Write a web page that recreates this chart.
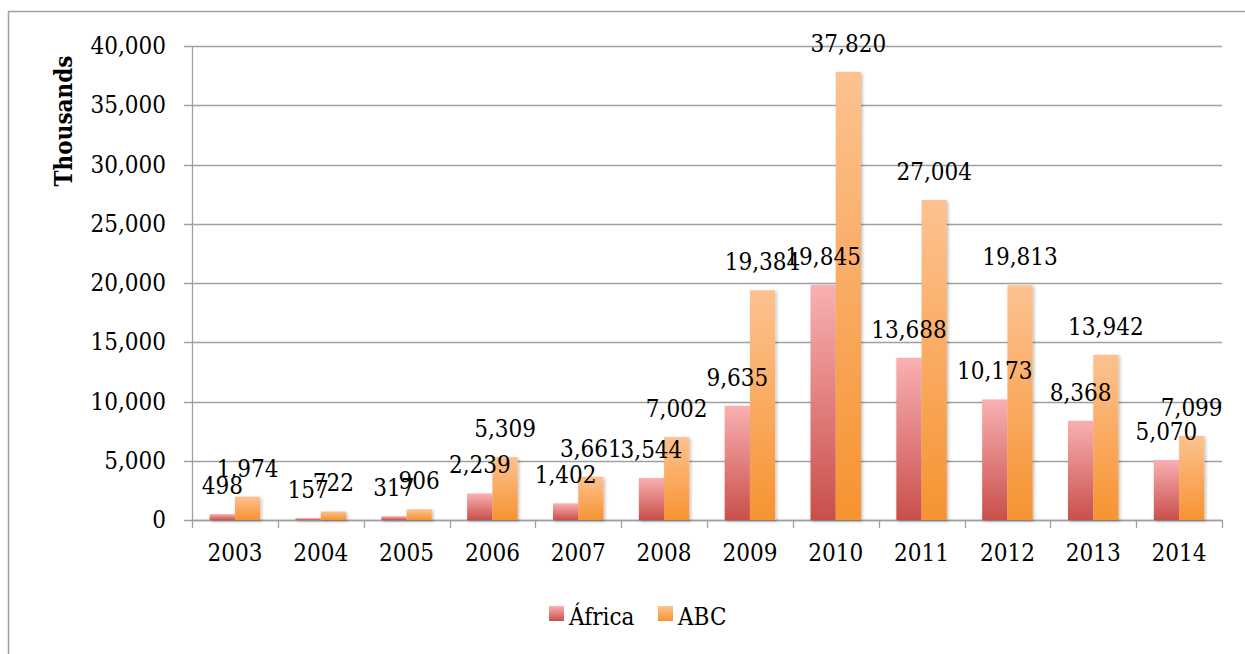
<!DOCTYPE html>
<html>
<head>
<meta charset="utf-8">
<script src="https://cdn.jsdelivr.net/npm/d3@7"></script>
<style>
  body { margin: 0; background: #fff; }
  text { font-family: "DejaVu Serif Condensed", "DejaVu Serif", serif; font-stretch: condensed; fill: #000; }
</style>
</head>
<body>
<div class="chart"></div>
<script>
"use strict";

const years = ["2003", "2004", "2005", "2006", "2007", "2008", "2009", "2010", "2011", "2012", "2013", "2014"];
const africa = [498, 157, 317, 2239, 1402, 3544, 9635, 19845, 13688, 10173, 8368, 5070];
const abc = [1974, 722, 906, 5309, 3661, 7002, 19384, 37820, 27004, 19813, 13942, 7099];
const seriesNames = ["África", "ABC"];
const yTicks = [0, 5000, 10000, 15000, 20000, 25000, 30000, 35000, 40000];

const width = 1245;
const height = 654;
const margin = { top: 46, right: 23, bottom: 134, left: 192 };
const fontSize = 24;

const svg = d3
  .select(".chart")
  .append("svg")
  .attr("width", width)
  .attr("height", height);

const defs = svg.append("defs");

// vertical gradients, one per series
const grads = [
  { id: "gAfrica", top: "#f9b0b2", bottom: "#c94f4a" },
  { id: "gAbc", top: "#fdc290", bottom: "#f69331" }
];
grads.forEach((g) => {
  const lg = defs
    .append("linearGradient")
    .attr("id", g.id)
    .attr("x1", 0)
    .attr("y1", 0)
    .attr("x2", 0)
    .attr("y2", 1);
  lg.append("stop").attr("offset", "0%").attr("stop-color", g.top);
  lg.append("stop").attr("offset", "100%").attr("stop-color", g.bottom);
});

defs
  .append("filter")
  .attr("id", "shadow")
  .attr("x", "-20%")
  .attr("y", "-20%")
  .attr("width", "150%")
  .attr("height", "150%")
  .append("feDropShadow")
  .attr("dx", 1.5)
  .attr("dy", 1.5)
  .attr("stdDeviation", 1.5)
  .attr("flood-color", "#000")
  .attr("flood-opacity", 0.25);

// outer frame
svg
  .append("path")
  .attr("d", `M8.5,${height} V11.5 H${width}`)
  .attr("fill", "none")
  .attr("stroke", "#a0a0a0")
  .attr("stroke-width", 1.5);

const x = d3
  .scaleBand()
  .domain(years)
  .range([margin.left, width - margin.right])
  .padding(0);

const x1 = d3
  .scaleBand()
  .domain(seriesNames)
  .range([0, x.bandwidth()])
  .paddingInner(0)
  .paddingOuter(0.7);

const y = d3
  .scaleLinear()
  .domain([0, 40000])
  .range([height - margin.bottom, margin.top]);

// gridlines
svg
  .append("g")
  .selectAll("line")
  .data(yTicks)
  .join("line")
  .attr("x1", margin.left - 8)
  .attr("x2", width - margin.right)
  .attr("y1", (d) => Math.round(y(d)) + 0.5)
  .attr("y2", (d) => Math.round(y(d)) + 0.5)
  .attr("stroke", "#a0a0a0")
  .attr("stroke-width", 1.3);

// y axis
const yAxis = d3
  .axisLeft(y)
  .tickValues(yTicks)
  .tickFormat(d3.format(","))
  .tickSize(0)
  .tickPadding(26);

svg
  .append("g")
  .attr("transform", `translate(${margin.left},0)`)
  .call(yAxis)
  .call((g) => g.select(".domain").attr("stroke", "#a0a0a0").attr("stroke-width", 1.3))
  .call((g) => g.selectAll("text").attr("font-size", fontSize).attr("font-family", null));

// x axis
const xAxis = d3
  .axisBottom(x)
  .tickSize(0)
  .tickPadding(24);

const xg = svg
  .append("g")
  .attr("transform", `translate(0,${y(0)})`)
  .call(xAxis)
  .call((g) => g.select(".domain").attr("stroke", "#a0a0a0").attr("stroke-width", 1.3))
  .call((g) => g.selectAll("text").attr("font-size", fontSize).attr("font-family", null));

// band boundary tick marks
xg.append("g")
  .selectAll("line")
  .data(years.concat(["end"]))
  .join("line")
  .attr("x1", (d, i) => Math.round(margin.left + i * x.step()) + 0.5)
  .attr("x2", (d, i) => Math.round(margin.left + i * x.step()) + 0.5)
  .attr("y1", 0)
  .attr("y2", 8)
  .attr("stroke", "#a0a0a0")
  .attr("stroke-width", 1.3);

// bars
const series = [
  { name: seriesNames[0], values: africa, fill: "url(#gAfrica)" },
  { name: seriesNames[1], values: abc, fill: "url(#gAbc)" }
];

const rows = [];
series.forEach((s) => {
  s.values.forEach((v, i) => rows.push({ name: s.name, year: years[i], value: v, fill: s.fill }));
});

svg
  .append("g")
  .attr("filter", "url(#shadow)")
  .selectAll("rect")
  .data(rows)
  .join("rect")
  .attr("x", (d) => x(d.year) + x1(d.name))
  .attr("y", (d) => y(d.value))
  .attr("width", x1.bandwidth())
  .attr("height", (d) => y(0) - y(d.value))
  .attr("fill", (d) => d.fill);

// value labels (drawn after bars)
svg
  .append("g")
  .selectAll("text")
  .data(rows)
  .join("text")
  .attr("x", (d) => x(d.year) + x1(d.name) + x1.bandwidth() / 2)
  .attr("y", (d) => y(d.value) - 20)
  .attr("text-anchor", "middle")
  .attr("font-size", fontSize)
  .text((d) => d3.format(",")(d.value));

// y axis title
svg
  .append("text")
  .attr("transform", "translate(72,121) rotate(-90)")
  .attr("text-anchor", "middle")
  .attr("font-size", fontSize)
  .attr("font-weight", "bold")
  .text("Thousands");

// legend
const legend = svg
  .append("g")
  .selectAll("g")
  .data(series)
  .join("g")
  .attr("transform", (d, i) => `translate(${[549, 658][i]},606)`);

legend
  .append("rect")
  .attr("width", 15)
  .attr("height", 15)
  .attr("fill", (d) => d.fill);

legend
  .append("text")
  .attr("x", 20)
  .attr("y", 19)
  .attr("font-size", fontSize)
  .text((d) => d.name);
</script>
</body>
</html>
